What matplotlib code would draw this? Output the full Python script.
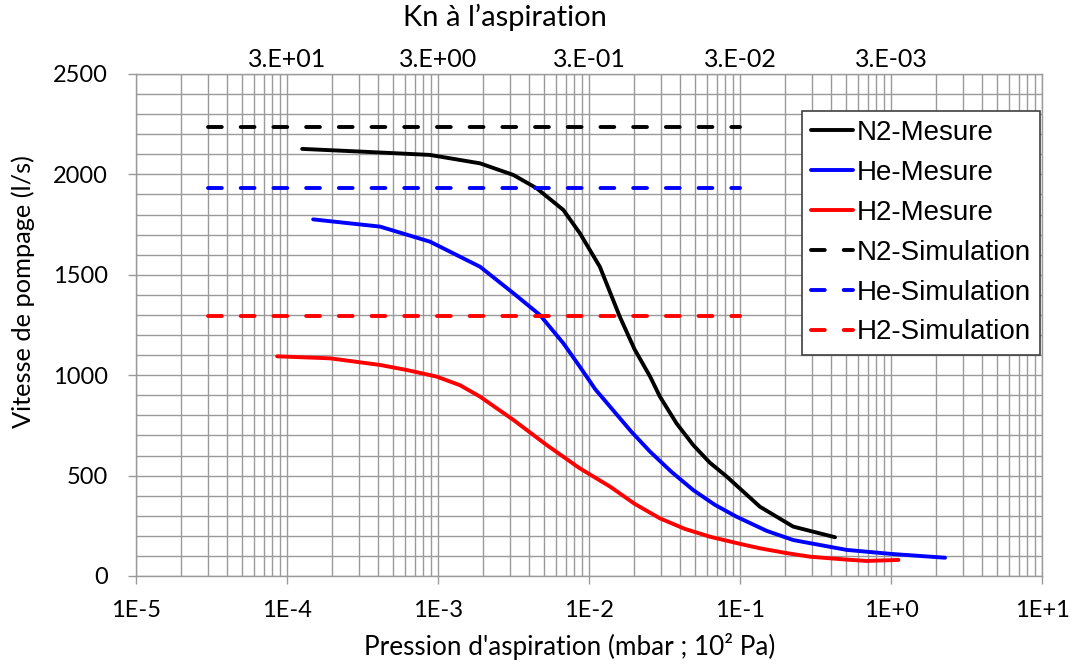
import numpy as np
import matplotlib
matplotlib.use('Agg')
import matplotlib.pyplot as plt
from matplotlib.ticker import FixedLocator, NullFormatter, NullLocator

# ---------------------------------------------------------------------------
# Data
# ---------------------------------------------------------------------------
p_n2 = [1.26e-4, 3.2e-4, 8.85e-4, 1.9e-3, 3.16e-3, 4.5e-3, 6.76e-3, 8.7e-3,
        1.18e-2, 1.6e-2, 2.0e-2, 2.54e-2, 2.95e-2, 3.8e-2, 4.9e-2, 6.3e-2,
        8.17e-2, 0.1355, 0.225, 0.426]
v_n2 = [2127, 2113, 2097, 2055, 1997, 1931, 1823, 1707,
        1540, 1291, 1130, 993, 893, 760, 652, 565,
        495, 345, 246, 193]

p_he = [1.49e-4, 4.13e-4, 8.85e-4, 1.9e-3, 3.16e-3, 4.73e-3, 6.76e-3, 8.7e-3,
        1.1e-2, 1.38e-2, 1.9e-2, 2.54e-2, 3.5e-2, 4.9e-2, 6.8e-2, 9.5e-2,
        0.15, 0.225, 0.508, 1.0, 2.28]
v_he = [1776, 1740, 1665, 1540, 1408, 1300, 1159, 1042,
        930, 843, 720, 619, 520, 428, 355, 295,
        225, 179, 130, 110, 91]

p_h2 = [8.6e-5, 1.93e-4, 4.13e-4, 6.2e-4, 9.8e-4, 1.4e-3, 1.9e-3, 3.16e-3,
        5.25e-3, 8.7e-3, 1.38e-2, 2.0e-2, 2.95e-2, 4.3e-2, 6.3e-2, 0.1,
        0.1355, 0.2, 0.291, 0.5, 0.69, 1.12]
v_h2 = [1094, 1084, 1051, 1026, 993, 950, 893, 777,
        652, 536, 445, 360, 287, 235, 196, 160,
        138, 115, 96, 82, 75, 80]

p_sim = [3e-5, 1e-1]
v_sim_n2 = [2238, 2238]
v_sim_he = [1930, 1930]
v_sim_h2 = [1295, 1295]

x_ticks = [1e-5, 1e-4, 1e-3, 1e-2, 1e-1, 1e0, 1e1]
x_ticklabels = ['1E-5', '1E-4', '1E-3', '1E-2', '1E-1', '1E+0', '1E+1']
kn_values = [30, 3, 0.3, 0.03, 0.003]
kn_ticklabels = ['3.E+01', '3.E+00', '3.E-01', '3.E-02', '3.E-03']
kn_factor = 3e-3      # Kn = kn_factor / p

# ---------------------------------------------------------------------------
# Figure
# ---------------------------------------------------------------------------
tick_font = 'Lato'
leg_font = 'Liberation Sans'
grid_col = '#9a9a9a'

fig = plt.figure(figsize=(10.7, 6.64), dpi=100)
ax = fig.add_axes([136/1070, 1 - 576/664, (1042-136)/1070, (576-74)/664])

lw = 2.8
dash = (3.55, 4.86)
ax.plot(p_n2, v_n2, color='black', lw=lw, solid_capstyle='round', solid_joinstyle='round',
        label='N2-Mesure', zorder=3)
ax.plot(p_he, v_he, color='#0000ff', lw=lw, solid_capstyle='round', solid_joinstyle='round',
        label='He-Mesure', zorder=3)
ax.plot(p_h2, v_h2, color='#ff0000', lw=lw, solid_capstyle='round', solid_joinstyle='round',
        label='H2-Mesure', zorder=3)
ax.plot(p_sim, v_sim_n2, color='black', lw=lw, dashes=dash, dash_capstyle='round',
        label='N2-Simulation', zorder=3)
ax.plot(p_sim, v_sim_he, color='#0000ff', lw=lw, dashes=dash, dash_capstyle='round',
        label='He-Simulation', zorder=3)
ax.plot(p_sim, v_sim_h2, color='#ff0000', lw=lw, dashes=dash, dash_capstyle='round',
        label='H2-Simulation', zorder=3)

ax.set_xscale('log')
ax.set_xlim(1e-5, 1e1)
ax.set_ylim(0, 2500)

ax.xaxis.set_major_locator(FixedLocator(x_ticks))
ax.set_xticklabels(x_ticklabels)
ax.xaxis.set_minor_locator(FixedLocator(
    [m * 10.0**e for e in range(-5, 1) for m in range(2, 10)]))
ax.xaxis.set_minor_formatter(NullFormatter())
ax.set_yticks(np.arange(0, 2501, 500))
ax.set_yticks(np.arange(0, 2501, 100), minor=True)

ax.grid(True, which='both', color=grid_col, lw=1.0)
ax.set_axisbelow(True)
ax.tick_params(which='major', direction='out', length=6, width=1, color=grid_col,
               labelsize=17, pad=11)
ax.tick_params(axis='y', which='major', pad=14)
ax.tick_params(which='minor', length=0)
for lab in ax.get_xticklabels() + ax.get_yticklabels():
    lab.set_family(tick_font)
for s in ax.spines.values():
    s.set_color(grid_col)
    s.set_linewidth(1.0)

# top axis : Knudsen number at the same positions as p = kn_factor / Kn
sec = ax.secondary_xaxis('top')
sec.xaxis.set_major_locator(FixedLocator([kn_factor / k for k in kn_values]))
sec.xaxis.set_minor_locator(NullLocator())
sec.set_xticklabels(kn_ticklabels)
sec.tick_params(length=0, labelsize=18, pad=2)
for lab in sec.get_xticklabels():
    lab.set_family(tick_font)
sec.spines['top'].set_visible(False)

fig.text(23/1070, 1 - 292/664, 'Vitesse de pompage (l/s)', rotation=90,
         ha='center', va='center', fontsize=18.3, family=tick_font)
fig.text(570/1070, 1 - 646/664, "Pression d'aspiration (mbar ; 10² Pa)",
         ha='center', va='center', fontsize=18.8, family=tick_font)
fig.text(505/1070, 1 - 17/664, "Kn à l\u2019aspiration",
         ha='center', va='center', fontsize=21, family=tick_font)

leg = ax.legend(loc='upper left', bbox_to_anchor=(802/1070, 1 - 110.5/664),
                bbox_transform=fig.transFigure, prop={'family': leg_font, 'size': 20},
                frameon=True, fancybox=False, framealpha=1, edgecolor='#404040',
                handlelength=1.5, handletextpad=0.12, labelspacing=0.5,
                borderpad=0.34, borderaxespad=0)
leg.get_frame().set_linewidth(1.2)

fig.savefig('out.png', dpi=100)
